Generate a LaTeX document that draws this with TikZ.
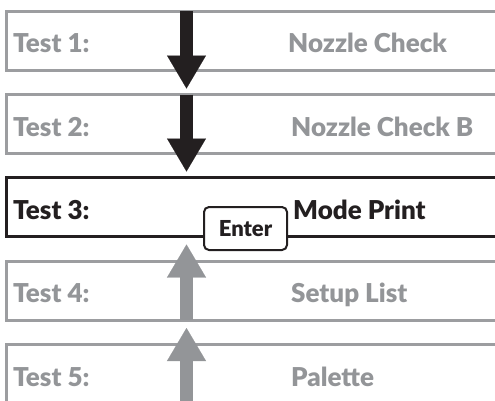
\documentclass[tikz,border=0pt]{standalone}
\usepackage{fontspec}
\setmainfont{Lato}
\newfontfamily\menufont{Lato Black}
\usepackage{tikz}
\usetikzlibrary{calc,positioning,arrows.meta}
\definecolor{MenuGray}{HTML}{9C9DA0}
\definecolor{MenuText}{HTML}{939598}
\definecolor{MenuDark}{HTML}{231F20}
\tikzset{
  menubox/.style={draw=MenuGray, line width=3pt, minimum width=514pt, minimum height=59pt, inner sep=0pt, outer sep=0pt},
  menuactive/.style={menubox, draw=MenuDark},
  menutext/.style={font=\menufont\fontsize{26}{26}\selectfont, text=MenuText, anchor=base west, inner sep=0pt},
  menuactivetext/.style={menutext, text=MenuDark},
  keybox/.style={draw=MenuDark, fill=white, line width=2pt, rounded corners=5pt,
    minimum width=83pt, minimum height=43pt, inner sep=0pt,
    font=\menufont\fontsize{22}{22}\selectfont, text=MenuDark},
  downarrow/.style={MenuDark, line width=13pt, -{Triangle[width=39pt,length=33pt,line width=0.1pt]}},
  uparrow/.style={downarrow, MenuText}
}

\begin{document}
\begin{tikzpicture}[x=1pt, y=-1pt]
  \useasboundingbox (0,0) rectangle (495,400);
  \clip (0,0) rectangle (495,400);

  % menu rows
  \node[menubox, anchor=west] (box1) at (6,40.5) {};
  \node[menubox, anchor=west] (box2) at (6,124) {};
  \node[menuactive, anchor=west] (box3) at (6,207) {};
  \node[menubox, anchor=west] (box4) at (6,290.5) {};
  \node[menubox, anchor=west] (box5) at (6,374) {};

  \node[menutext] (test1) at ([xshift=7pt,yshift=-12pt]box1.west) {Test 1:};
  \node[menutext] (test2) at ([xshift=7pt,yshift=-12pt]box2.west) {Test 2:};
  \node[menuactivetext] (test3) at ([xshift=7pt,yshift=-12pt]box3.west) {Test 3:};
  \node[menutext] (test4) at ([xshift=7pt,yshift=-12pt]box4.west) {Test 4:};
  \node[menutext] (test5) at ([xshift=7pt,yshift=-12pt]box5.west) {Test 5:};

  \node[menutext] (item1) at ([xshift=282pt,yshift=-12pt]box1.west) {Nozzle Check};
  \node[menutext] (item2) at ([xshift=285pt,yshift=-12pt]box2.west) {Nozzle Check B};
  \node[menuactivetext] (item3) at ([xshift=287pt,yshift=-12pt]box3.west) {Mode Print};
  \node[menutext] (item4) at ([xshift=285pt,yshift=-12pt]box4.west) {Setup List};
  \node[menutext] (item5) at ([xshift=285pt,yshift=-12pt]box5.west) {Palette};

  % scroll arrows
  \coordinate (axis) at (186.5,0);
  \draw[downarrow] (axis |- box1.north) -- ([yshift=6pt]axis |- box2.north);
  \draw[downarrow] (axis |- box2.north) -- ([yshift=6pt]axis |- box3.north);
  \draw[uparrow] (axis |- box4.south) -- ([yshift=-8pt]axis |- box3.south);
  \draw[uparrow] (axis |- box5.south) -- ([yshift=-8pt]axis |- box4.south);

  % key
  \node[keybox] (enter) at (245.5,228.5) {Enter};
\end{tikzpicture}
\end{document}
